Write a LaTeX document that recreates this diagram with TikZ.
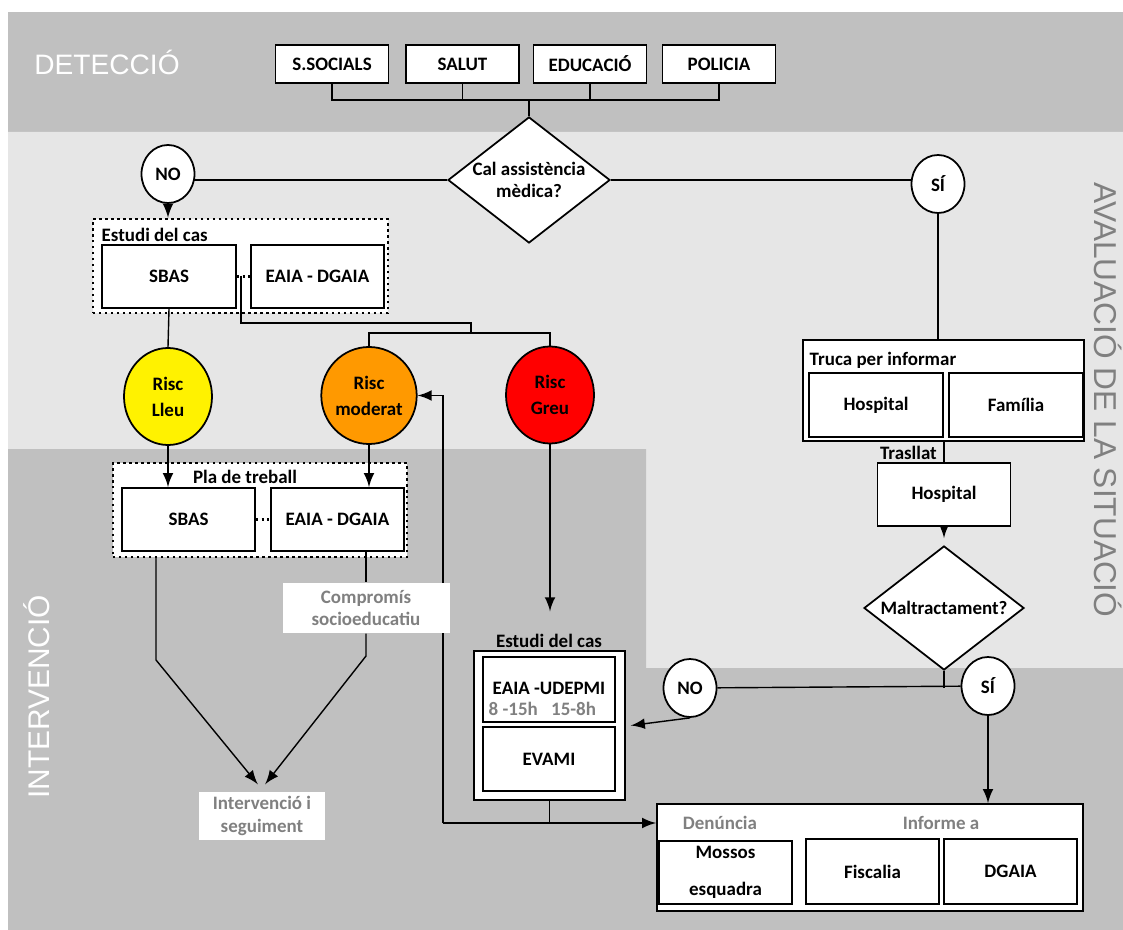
\documentclass[tikz,border=0pt]{standalone}
\usepackage{fontspec}
\setmainfont{Carlito}
\newfontfamily\secfont{Liberation Sans}
\usetikzlibrary{shapes,arrows}

\definecolor{bandgray}{HTML}{C0C0C0}
\definecolor{lightband}{HTML}{E6E6E6}
\definecolor{txtgray}{HTML}{808080}
\definecolor{riscorange}{HTML}{FF9900}

\pgfdeclarelayer{bg}
\pgfdeclarelayer{lines}
\pgfsetlayers{bg,lines,main}

\begin{document}
\begin{tikzpicture}[y=-1cm,
	every node/.style={font=\fontsize{5.4}{6.4}\selectfont\bfseries},
	box/.style={draw,fill=white,line width=0.5pt,inner sep=0pt,align=center,
		minimum width=1.33cm,minimum height=0.63cm},
	toprow/.style={box,minimum width=1.13cm,minimum height=0.38cm},
	dotbox/.style={draw,densely dotted,line width=0.7pt,fill=white,inner sep=0pt},
	answer/.style={ellipse,draw,fill=white,line width=0.5pt,inner sep=0pt,
		minimum width=0.53cm,minimum height=0.58cm},
	risc/.style={ellipse,draw,line width=0.5pt,inner sep=0pt,align=center,
		minimum width=0.88cm,minimum height=0.97cm},
	decision/.style={diamond,draw,fill=white,line width=0.5pt,inner sep=-1pt,aspect=1.3,align=center},
	section/.style={font=\secfont\fontsize{8}{9}\selectfont},
	graytxt/.style={text=txtgray}]

	\useasboundingbox (0,0) rectangle (11.23,9.30);

	% bands
	\begin{pgfonlayer}{bg}
		\fill[white] (0,0) rectangle (11.23,9.30);
		\fill[bandgray] (0.08,0.12) rectangle (11.23,1.32);
		\fill[lightband] (0.08,1.32) -- (11.23,1.32) -- (11.23,6.68) -- (6.46,6.68) -- (6.46,4.49) -- (0.08,4.49) -- cycle;
		\fill[bandgray] (0.08,4.49) -- (6.46,4.49) -- (6.46,6.68) -- (11.23,6.68) -- (11.23,9.30) -- (0.08,9.30) -- cycle;
		\node[dotbox,minimum width=2.95cm,minimum height=0.94cm] (est1) at (2.405,2.66) {};
		\node[dotbox,minimum width=2.94cm,minimum height=0.94cm] (pla) at (2.60,5.10) {};
	\end{pgfonlayer}

	\node[section,text=white] (det) at (1.07,0.62) {DETECCIÓ};
	\node[section,text=txtgray,rotate=-90,font=\secfont\fontsize{9}{10}\selectfont] (aval) at (11.08,4.00) {AVALUACIÓ DE LA SITUACIÓ};
	\node[section,text=white,rotate=90,font=\secfont\fontsize{8.5}{10}\selectfont] (intv) at (0.37,6.97) {INTERVENCIÓ};

	% deteccio
	\node[toprow] (ssoc) at (3.32,0.64) {S.SOCIALS};
	\node[toprow] (salut) at (4.625,0.64) {SALUT};
	\node[toprow] (educ) at (5.90,0.64) {EDUCACIÓ};
	\node[toprow] (pol) at (7.19,0.64) {POLICIA};
	\coordinate (tjoin) at (5.29,1.00);

	\node[decision,minimum width=1.62cm,minimum height=1.26cm] (cal) at (5.29,1.80) {Cal assistència\\mèdica?};
	\node[answer] (no1) at (1.68,1.74) {NO};
	\node[answer] (si1) at (9.38,1.84) {SÍ};

	% estudi del cas
	\node[anchor=west,inner sep=0pt] (est1lbl) at (1.01,2.35) {Estudi del cas};
	\node[box,minimum width=1.34cm] (sbas1) at (1.69,2.765) {SBAS};
	\node[box] (eaia1) at (3.175,2.765) {EAIA - DGAIA};
	\coordinate (lk) at (2.41,2.76);
	\coordinate (lk2) at (4.71,3.23);
	\coordinate (rb) at (4.71,3.33);

	\node[risc,fill=yellow] (lleu) at (1.68,3.965) {Risc\\[1pt]Lleu};
	\node[risc,fill=riscorange] (mod) at (3.69,3.955) {Risc\\[1pt]moderat};
	\node[risc,fill=red] (greu) at (5.50,3.95) {Risc\\[1pt]Greu};

	% pla de treball
	\node (plalbl) at (2.45,4.77) {Pla de treball};
	\node[box] (sbas2) at (1.885,5.195) {SBAS};
	\node[box] (eaia2) at (3.375,5.195) {EAIA - DGAIA};
	\node[graytxt,fill=white,align=center,inner sep=0pt,minimum width=1.67cm,minimum height=0.50cm] (comp) at (3.66,6.08) {Compromís\\socioeducatiu};
	\node[graytxt,fill=white,align=center,inner sep=0pt,minimum width=1.26cm,minimum height=0.48cm] (interv) at (2.62,8.16) {Intervenció i\\seguiment};
	\coordinate (bl) at (1.56,6.60);
	\coordinate (br) at (3.66,6.56);
	\coordinate (back) at (4.43,8.23);

	% estudi del cas (greu)
	\node (est2lbl) at (5.49,6.41) {Estudi del cas};
	\node[box,minimum width=1.51cm,minimum height=1.49cm] (est2) at (5.495,7.255) {};
	\node[box,minimum width=1.32cm,minimum height=0.65cm] (udep) at (5.49,6.895) {};
	\node (udeptxt) at (5.49,6.88) {EAIA -UDEPMI};
	\node[graytxt,anchor=west,inner sep=0pt] (hours) at (4.88,7.09) {8 -15h\hspace{0.7em}15-8h};
	\node[box,minimum width=1.32cm,minimum height=0.64cm] (evami) at (5.49,7.59) {EVAMI};

	% avaluacio
	\node[box,minimum width=2.81cm,minimum height=1.01cm] (truca) at (9.435,3.905) {};
	\node[anchor=west,inner sep=0pt] (trucalbl) at (8.09,3.60) {Truca per informar};
	\node[box,minimum width=1.34cm,minimum height=0.64cm] (hosp1) at (8.76,4.05) {Hospital};
	\node[box,minimum width=1.34cm,minimum height=0.64cm] (fam) at (10.16,4.05) {Família};
	\node[anchor=east,inner sep=1pt] (tras) at (9.41,4.53) {Trasllat};
	\node[box] (hosp2) at (9.44,4.945) {Hospital};
	\node[decision,minimum width=1.60cm,minimum height=1.24cm] (dia2) at (9.44,6.08) {Maltractament?};
	\node[answer] (no2) at (6.90,6.88) {NO};
	\node[answer] (si2) at (9.88,6.86) {SÍ};

	% denuncia / informe
	\node[box,minimum width=4.26cm,minimum height=1.07cm] (rep) at (8.70,8.575) {};
	\node[graytxt] (den) at (7.20,8.23) {Denúncia};
	\node[graytxt] (inf) at (9.41,8.23) {Informe a};
	\node[box] (mossos) at (7.255,8.725) {Mossos\\[4pt]esquadra};
	\node[box,minimum height=0.65cm] (fisc) at (8.725,8.715) {Fiscalia};
	\node[box,minimum height=0.65cm] (dgaia) at (10.105,8.715) {DGAIA};

	% connectors
	\begin{pgfonlayer}{lines}
		\draw (ssoc.south) |- (pol.south |- tjoin) -- (pol.south);
		\draw (salut.south) -- (salut.south |- tjoin);
		\draw (educ.south) -- (educ.south |- tjoin);
		\draw (tjoin) -- (cal.north);
		\draw (cal.west) -- (cal.west -| no1);
		\draw (cal.east) -- (cal.east -| si1);
		\draw[-latex] (no1.south) -- (no1.south |- est1.north);
		\draw[densely dotted,line width=0.6pt] (sbas1) -- (eaia1);
		\draw (sbas1.south) -- (lleu.north);
		\draw (lk) |- (lk2) -- (rb);
		\draw (mod.north) |- (rb) -| (greu.north);
		\draw[-latex] (lleu.south) -- (lleu.south |- sbas2.north);
		\draw[-latex] (mod.south) -- (mod.south |- eaia2.north);
		\draw[densely dotted,line width=0.6pt] (sbas2) -- (eaia2);
		\draw[-latex] (bl |- pla.south) -- (bl) -- ([xshift=-1.2pt,yshift=2pt]interv.north);
		\draw (comp.north |- eaia2.south) -- (comp.north);
		\draw[-latex] (comp.south) -- (br) -- ([xshift=0.9pt,yshift=2pt]interv.north);
		\draw[-latex] (back) |- (mod.east);
		\draw[-latex] (back) -- (back -| rep.west);
		\draw (est2.south) -- (est2.south |- back);
		\draw[-latex,shorten >=3pt] (greu.south) -- (greu.south |- est2lbl.north);
		\draw[-latex] (no2.south) -- ([xshift=1.4pt]est2.east);
		\draw (no2) -- (si2);
		\draw (dia2.south) -- (dia2.south |- no2);
		\draw[-latex] (si2.south) -- (si2.south |- rep.north);
		\draw (si1.south) -- (si1.south |- truca.north);
		\draw (hosp2.north |- truca.south) -- (hosp2.north);
		\draw[-latex] (hosp2.south) -- ([yshift=2pt]dia2.north);
	\end{pgfonlayer}
\end{tikzpicture}
\end{document}
